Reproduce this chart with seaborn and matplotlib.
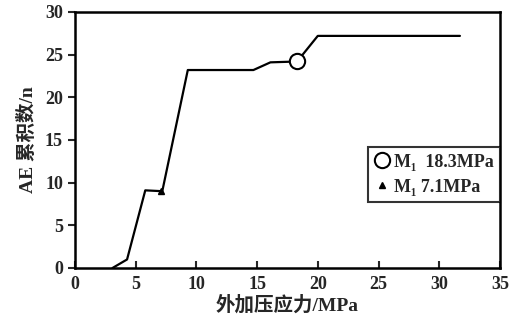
import matplotlib
matplotlib.use('Agg')
import matplotlib.pyplot as plt
import pandas as pd
import seaborn as sns

# curve
stress = [3.1, 4.3, 5.8, 7.2, 9.3, 14.7, 16.1, 18.3, 20.0, 31.7]
ae_count = [0, 1.0, 9.1, 9.0, 23.2, 23.2, 24.1, 24.2, 27.2, 27.2]

# marked points
m_labels = ['M\u2081  18.3MPa', 'M\u2081 7.1MPa']
m_x = [18.3, 7.1]
m_y = [24.2, 9.0]

df = pd.DataFrame({'stress': stress, 'ae': ae_count})

sns.set_style('ticks')
plt.rcParams['font.family'] = ['Liberation Serif', 'Noto Sans CJK SC']
plt.rcParams['font.weight'] = 'bold'

fig = plt.figure(figsize=(5.16, 3.2), dpi=100)
ax = fig.add_axes([0.145, 0.1625, 0.824, 0.8])

sns.lineplot(data=df, x='stress', y='ae', ax=ax, color='black', linewidth=1.6)
ax.plot(m_x[0], m_y[0], 'o', ms=11, mfc='white', mec='black', mew=1.5,
        linestyle='none', label=m_labels[0])
ax.plot(m_x[1], m_y[1], '^', ms=5, color='black', linestyle='none',
        label=m_labels[1])

ax.set_xlim(0, 35)
ax.set_ylim(0, 30)
ax.set_xticks(range(0, 36, 5))
ax.set_yticks(range(0, 31, 5))
ax.tick_params(axis='x', direction='in', length=5, width=1.5, labelsize=13, pad=6)
ax.tick_params(axis='y', direction='out', length=5, width=1.5, labelsize=13)
for s in ax.spines.values():
    s.set_linewidth(1.8)
    s.set_color('black')

ax.set_xlabel('外加压应力/MPa', fontsize=14, fontweight='bold', labelpad=1)
ax.set_ylabel('AE 累积数/n', fontsize=14, fontweight='bold', labelpad=6)

leg = ax.legend(loc='lower right', bbox_to_anchor=(1.0, 0.258), frameon=True,
                fancybox=False, edgecolor='black', fontsize=13,
                handletextpad=0.2, handlelength=0.9, borderpad=0.35,
                labelspacing=0.45, borderaxespad=0)
leg.get_frame().set_linewidth(1.5)

fig.savefig('out.png', dpi=100)
